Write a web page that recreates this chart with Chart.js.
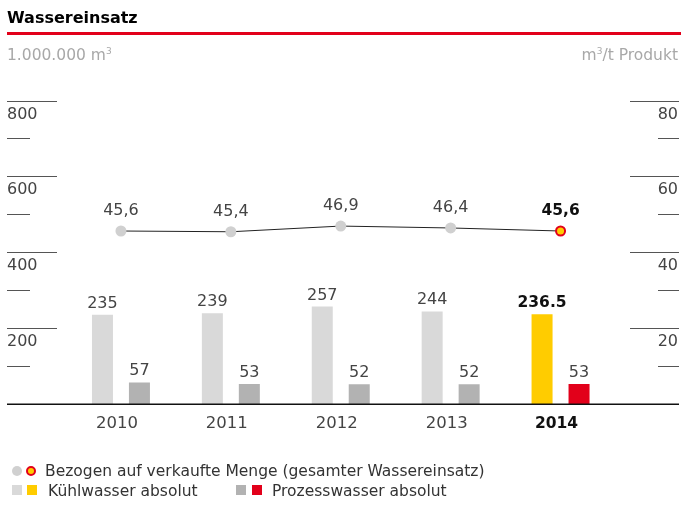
<!DOCTYPE html>
<html>
<head>
<meta charset="utf-8">
<script src="https://cdn.jsdelivr.net/npm/chart.js@4/dist/chart.umd.min.js"></script>
<style>
  body { margin: 0; background: #fff; font-family: "DejaVu Sans", sans-serif; }
  #wrap { position: relative; width: 681px; height: 506px; overflow: hidden; }
  #chart { position: absolute; left: 0; top: 0; }
  .txt { position: absolute; line-height: 1; white-space: nowrap; }
  .title { left: 7px; top: 9.5px; font-size: 16px; font-weight: bold; color: #000; }
  .redline { position: absolute; left: 7px; right: 0; top: 32px; height: 3px; background: #e2001a; }
  .unit { top: 47px; font-size: 15.5px; color: #a8a8a8; }
  .unit sup { font-size: 9px; vertical-align: 6px; }
  .legend { font-size: 15.5px; color: #333; }
  .mark { position: absolute; box-sizing: border-box; }
</style>
</head>
<body>
<div id="wrap">
  <canvas id="chart" width="681" height="506"></canvas>
  <div class="txt title">Wassereinsatz</div>
  <div class="redline"></div>
  <div class="txt unit" style="left:7px">1.000.000 m<sup>3</sup></div>
  <div class="txt unit" style="right:3px">m<sup>3</sup>/t Produkt</div>

  <!-- Legende -->
  <div class="mark" style="left:12px;top:466px;width:10px;height:10px;border-radius:50%;background:#d0d0d0"></div>
  <div class="mark" style="left:26px;top:466px;width:10px;height:10px;border-radius:50%;background:#ffcc00;border:2px solid #e2001a"></div>
  <div class="txt legend" style="left:45px;top:463.5px">Bezogen auf verkaufte Menge (gesamter Wassereinsatz)</div>
  <div class="mark" style="left:12px;top:485px;width:10px;height:10px;background:#d9d9d9"></div>
  <div class="mark" style="left:27px;top:485px;width:10px;height:10px;background:#ffcc00"></div>
  <div class="txt legend" style="left:48px;top:483.5px">Kühlwasser absolut</div>
  <div class="mark" style="left:236px;top:485px;width:10px;height:10px;background:#b2b2b2"></div>
  <div class="mark" style="left:252px;top:485px;width:10px;height:10px;background:#e2001a"></div>
  <div class="txt legend" style="left:272px;top:483.5px">Prozesswasser absolut</div>
</div>

<script>
// --- DATEN ---
const years = ['2010', '2011', '2012', '2013', '2014'];
const kuehlwasser = [235, 239, 257, 244, 236.5];   // 1.000.000 m3
const prozesswasser = [57, 53, 52, 52, 53];        // 1.000.000 m3
const spezifisch = [45.6, 45.4, 46.9, 46.4, 45.6]; // m3/t Produkt
const leftTicks = [100, 200, 300, 400, 500, 600, 700, 800];
const rightTicks = [10, 20, 30, 40, 50, 60, 70, 80];

const hl = years.length - 1; // aktuelles Jahr hervorheben
const pick = (normal, accent) => years.map((_, i) => i === hl ? accent : normal);

const FONT = '"DejaVu Sans", sans-serif';

// Achsen, Beschriftungen und Werte selbst zeichnen
const overlayPlugin = {
    id: 'overlay',
    afterDatasetsDraw(chart) {
        const ctx = chart.ctx;
        const y = chart.scales.y, y1 = chart.scales.y1, x = chart.scales.x;
        ctx.save();

        const hline = (x0, x1, py) => {
            ctx.beginPath();
            ctx.moveTo(x0, py);
            ctx.lineTo(x1, py);
            ctx.stroke();
        };

        // linke Achse
        ctx.strokeStyle = '#555';
        ctx.lineWidth = 1;
        ctx.fillStyle = '#444';
        ctx.font = '16px ' + FONT;
        leftTicks.forEach(v => {
            const py = Math.round(y.getPixelForValue(v)) + 0.5;
            const major = v % 200 === 0;
            hline(7, major ? 57 : 30, py);
            if (major) {
                ctx.textAlign = 'left';
                ctx.fillText(String(v), 7, py + 17);
            }
        });

        // rechte Achse
        rightTicks.forEach(v => {
            const py = Math.round(y1.getPixelForValue(v)) + 0.5;
            const major = v % 20 === 0;
            hline(major ? 630 : 658, 679, py);
            if (major) {
                ctx.textAlign = 'right';
                ctx.fillText(String(v), 678, py + 17);
            }
        });

        // Grundlinie
        ctx.strokeStyle = '#111';
        ctx.lineWidth = 1.5;
        hline(7, 679, Math.round(y.getPixelForValue(0)) + 0.25);

        // Jahre
        ctx.textAlign = 'center';
        years.forEach((yr, i) => {
            const px = x.getPixelForValue(i) - 4;
            ctx.fillStyle = i === hl ? '#111' : '#444';
            ctx.font = (i === hl ? 'bold 15.5px ' : '16.5px ') + FONT;
            ctx.fillText(yr, px, 428);
        });

        // Balkenwerte (nur Kühlwasser im aktuellen Jahr fett)
        [0, 1].forEach(d => {
            const meta = chart.getDatasetMeta(d);
            const vals = chart.data.datasets[d].data;
            meta.data.forEach((bar, i) => {
                const bold = d === 0 && i === hl;
                ctx.fillStyle = bold ? '#111' : '#444';
                ctx.font = (bold ? 'bold 15.5px ' : '16px ') + FONT;
                ctx.fillText(String(vals[i]), bar.x, bar.y - 7);
            });
        });

        // Linienwerte
        const lmeta = chart.getDatasetMeta(2);
        lmeta.data.forEach((pt, i) => {
            ctx.fillStyle = i === hl ? '#111' : '#444';
            ctx.font = (i === hl ? 'bold 15.5px ' : '16px ') + FONT;
            ctx.fillText(spezifisch[i].toFixed(1).replace('.', ','), pt.x, pt.y - 16);
        });

        ctx.restore();
    }
};

new Chart(document.getElementById('chart').getContext('2d'), {
    data: {
        labels: years,
        datasets: [
            {
                type: 'bar',
                label: 'Kühlwasser absolut',
                data: kuehlwasser,
                yAxisID: 'y',
                backgroundColor: pick('#d9d9d9', '#ffcc00'),
                categoryPercentage: 0.673,
                barPercentage: 0.568,
                order: 1
            },
            {
                type: 'bar',
                label: 'Prozesswasser absolut',
                data: prozesswasser,
                yAxisID: 'y',
                backgroundColor: pick('#b2b2b2', '#e2001a'),
                categoryPercentage: 0.673,
                barPercentage: 0.568,
                order: 1
            },
            {
                type: 'line',
                label: 'Bezogen auf verkaufte Menge (gesamter Wassereinsatz)',
                data: spezifisch,
                yAxisID: 'y1',
                borderColor: '#222',
                borderWidth: 1,
                tension: 0,
                pointRadius: pick(5.5, 4.5),
                pointBackgroundColor: pick('#d0d0d0', '#ffcc00'),
                pointBorderColor: pick('#d0d0d0', '#e2001a'),
                pointBorderWidth: pick(0, 2),
                order: 0
            }
        ]
    },
    options: {
        responsive: false,
        animation: false,
        layout: { padding: { left: 66, right: 65.5, top: 100.5, bottom: 102 } },
        scales: {
            x: { display: false },
            y: { display: false, min: 0, max: 800 },
            y1: { display: false, min: 0, max: 80, position: 'right' }
        },
        plugins: {
            legend: { display: false },
            tooltip: { enabled: false }
        }
    },
    plugins: [overlayPlugin]
});
</script>
</body>
</html>
